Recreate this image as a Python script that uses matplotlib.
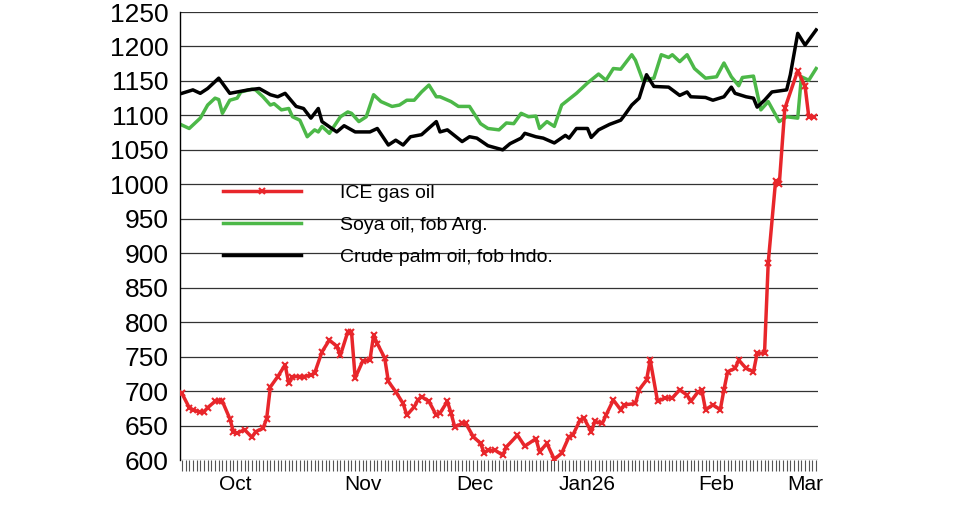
import matplotlib
matplotlib.use("Agg")
import matplotlib.pyplot as plt

plt.rcParams['font.family'] = ['Liberation Sans', 'DejaVu Sans']

red_x = [0,2,3,5,6,7,9,10,11,13,14,15,17,19,20,22,23,24,26,28,29,30,32,33,35,36,38,40,42,43,45,46,47,49,51,52,53,55,56,58,60,61,63,64,65,67,69,70,72,73,74,76,77,79,81,82,83,85,
         87,88,91,93,96,97,99,101,103,105,106,108,109,111,112,114,115,117,119,120,123,124,126,127,129,131,133,135,137,138,140,141,142,144,146,147,148,150,151,153,155,156,158,
         159,161,162,163.5,167,169,170,171.5]
red_y = [697,676,673,669,670,676,685,686,685,660,641,639,644,633,641,646,660,706,721,738,711,721,721,721,723,726,757,774,765,752,786,786,719,743,745,781,769,748,714,699,682,665,677,687,692,685,665,668,685,668,648,653,653,634,624,610,614,614,
         607,619,636,620,631,612,624,601,610,634,636,658,661,641,656,653,665,687,673,680,682,702,716,745,685,690,690,702,694,685,699,701,673,680,673,702,728,733,745,733,728,755,755,
         886,1005,1000,1110,1165,1142,1098,1098]

blk_x = [0,3,5,7,10,13,15,18,21,24,26,28,31,33,35,37,38,42,44,47,51,53,56,58,60,62,65,69,70,72,76,78,80,83,
         87,89,92,93,96,98,101,104,105,107,110,111,113,116,119,120,122,124,126,128,132,135,137,138,142,144,147,149,150,153,155,156,158,160,164,165,167,169,172]
blk_y = [1132,1137,1132,1139,1154,1132,1134,1137,1139,1130,1127,1132,1113,1110,1096,1110,1091,1076,1085,1076,1076,1081,1057,1064,1057,1069,1072,1091,1076,1079,1062,1069,1067,1056,
         1050,1059,1067,1074,1069,1067,1060,1071,1067,1081,1081,1068,1079,1087,1093,1100,1115,1125,1159,1142,1141,1129,1134,1127,1126,1122,1127,1141,1132,1127,1125,1112,1122,1134,1137,1159,1219,1202,1224]

grn_x = [0,2,5,7,9,10,11,13,15,16,19,20,22,24,25,27,29,30,32,34,36,37,38,40,43,45,46,48,50,52,54,57,59,61,63,65,67,69,70,73,75,78,81,83,
         86,88,90,92,94,96,97,99,101,103,107,110,113,115,117,119,122,123,125,128,130,132,133,135,137,139,142,145,147,149,151,152,155,157,159,162,164,167,168,170,172]
grn_y = [1086,1081,1096,1115,1125,1123,1103,1122,1125,1134,1138,1137,1127,1115,1117,1108,1110,1098,1093,1069,1079,1076,1084,1074,1098,1105,1103,1091,1098,1130,1120,1113,1115,1122,1122,1134,1144,1127,1127,1120,1113,1113,1088,1081,
         1079,1089,1088,1103,1098,1099,1081,1091,1084,1115,1132,1147,1160,1151,1168,1167,1188,1180,1151,1154,1188,1184,1188,1178,1188,1168,1154,1156,1176,1156,1143,1155,1157,1108,1120,1091,1098,1096,1156,1151,1168]

month_labels = ["Oct", "Nov", "Dec", "Jan26", "Feb", "Mar"]
month_pos = [14.6, 49.2, 79.5, 110, 145, 169]
yticks = list(range(600, 1251, 50))

fig = plt.figure(figsize=(9.8, 5.14), dpi=100)
ax = fig.add_axes([180/980, 1-460/514, 638/980, 448/514])
for v in yticks:
    ax.axhline(v, color="#333333", lw=0.9, zorder=0)
ax.plot(red_x, red_y, color="#e8262b", lw=2.5, marker="x", ms=5, mew=1.5, label="ICE gas oil", zorder=3)
ax.plot(grn_x, grn_y, color="#4cb848", lw=2.5, label="Soya oil, fob Arg.", zorder=2)
ax.plot(blk_x, blk_y, color="black", lw=2.5, label="Crude palm oil, fob Indo.", zorder=2)
ax.set_xlim(-0.5, 172.5)
ax.set_ylim(600, 1250)
ax.set_yticks(yticks)
ax.set_yticklabels([str(v) for v in yticks], fontsize=19)
ax.tick_params(axis="y", length=0, pad=8)
ax.set_xticks(range(0, 173))
ax.set_xticklabels([])
ax.tick_params(axis="x", direction="out", length=8, width=0.8, color="#555555")
for lab, p in zip(month_labels, month_pos):
    ax.text(p, 578, lab, ha="center", va="top", fontsize=15)
for s in ["top", "right", "bottom"]:
    ax.spines[s].set_visible(False)
ax.spines["left"].set_linewidth(1)
leg = ax.legend(loc="upper left", bbox_to_anchor=(0.04, 0.655), frameon=False, fontsize=14,
                handlelength=4.0, handletextpad=2.0, labelspacing=0.75)
fig.savefig("out.png", dpi=100)
